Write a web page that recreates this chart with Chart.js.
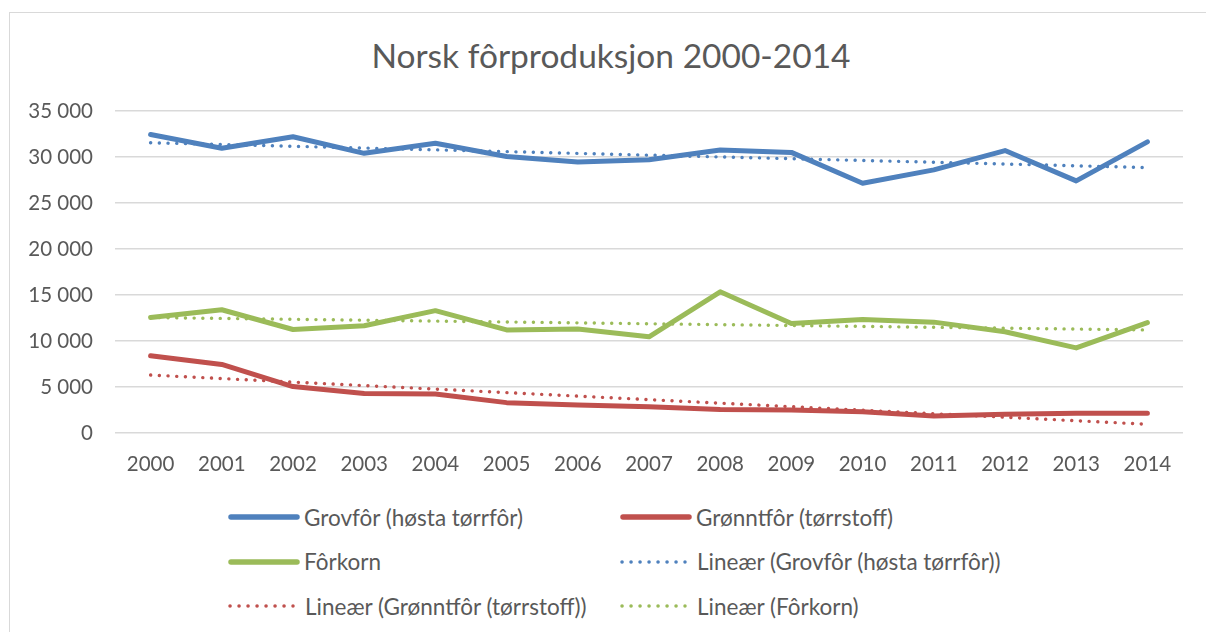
<!DOCTYPE html>
<html>
<head>
<meta charset="utf-8">
<script src="https://cdn.jsdelivr.net/npm/chart.js@4/dist/chart.umd.min.js"></script>
<style>
  html, body { margin: 0; padding: 0; background: #fff; }
  body { width: 1206px; height: 632px; position: relative; overflow: hidden; font-family: Lato, sans-serif; color: #595959; }
  #frame { position: absolute; left: 9px; top: 12px; width: 1230px; height: 660px; border: 1px solid #d9d9d9; box-sizing: border-box; }
  #title { position: absolute; left: 211px; width: 800px; top: 33px; text-align: center; font-size: 33.5px; line-height: 44px; }
  #wrap { position: absolute; left: 0; top: 0; width: 1206px; height: 480px; }
  #legend { position: absolute; left: 228px; top: 495px; display: grid; grid-template-columns: 392px 420px; grid-auto-rows: 44.5px; font-size: 22.5px; }
  .item { display: flex; align-items: center; white-space: nowrap; }
  .item svg { flex: none; }
</style>
</head>
<body>
<div id="frame"></div>
<div id="title">Norsk fôrproduksjon 2000-2014</div>
<div id="wrap"><canvas id="chart"></canvas></div>
<div id="legend"></div>
<script>
// --- data ---
const years = ['2000', '2001', '2002', '2003', '2004', '2005', '2006', '2007', '2008', '2009', '2010', '2011', '2012', '2013', '2014'];
const grovfor = [32450, 30950, 32200, 30400, 31500, 30050, 29450, 29700, 30750, 30500, 27150, 28600, 30700, 27400, 31650];
const gronntfor = [8400, 7450, 5050, 4300, 4250, 3300, 3050, 2850, 2550, 2500, 2300, 1850, 2050, 2150, 2150];
const forkorn = [12550, 13400, 11250, 11650, 13300, 11200, 11300, 10450, 15350, 11900, 12350, 12050, 11000, 9250, 12000];
// trendlines: only the two ends, the line is drawn straight between them
const trendGrovfor = [31550, null, null, null, null, null, null, null, null, null, null, null, null, null, 28850];
const trendGronntfor = [6300, null, null, null, null, null, null, null, null, null, null, null, null, null, 950];
const trendForkorn = [12550, null, null, null, null, null, null, null, null, null, null, null, null, null, 11200];
const yTicks = [0, 5000, 10000, 15000, 20000, 25000, 30000, 35000];

const BLUE = '#4F81BD', RED = '#C0504D', GREEN = '#9BBB59';
const FONT = 'Lato';

function solid(label, data, color) {
  return { label, data, borderColor: color, backgroundColor: color, borderWidth: 5,
    borderCapStyle: 'round', borderJoinStyle: 'round', pointRadius: 0, tension: 0, order: 2, fill: false };
}
function dotted(label, data, color) {
  return { label, data, borderColor: color, backgroundColor: color, borderWidth: 3.4,
    borderDash: [0.1, 8.6], borderCapStyle: 'round', pointRadius: 0, spanGaps: true, order: 1, fill: false, dotted: true };
}

const fmt = v => String(v).replace(/\B(?=(\d{3})+(?!\d))/g, ' ');

const chart = new Chart(document.getElementById('chart'), {
  type: 'line',
  data: {
    labels: years,
    datasets: [
      solid('Grovfôr (høsta tørrfôr)', grovfor, BLUE),
      solid('Grønntfôr (tørrstoff)', gronntfor, RED),
      solid('Fôrkorn', forkorn, GREEN),
      dotted('Lineær (Grovfôr (høsta tørrfôr))', trendGrovfor, BLUE),
      dotted('Lineær (Grønntfôr (tørrstoff))', trendGronntfor, RED),
      dotted('Lineær (Fôrkorn)', trendForkorn, GREEN)
    ]
  },
  options: {
    responsive: true,
    maintainAspectRatio: false,
    animation: false,
    layout: { padding: { left: 16, right: 23, top: 111, bottom: 0 } },
    plugins: { legend: { display: false }, tooltip: { enabled: false }, title: { display: false } },
    scales: {
      x: {
        offset: true,
        grid: { display: false, drawTicks: false },
        border: { display: false },
        ticks: { color: '#595959', font: { family: FONT, size: 20.5 }, padding: 19, maxRotation: 0, autoSkip: false },
        afterFit: s => { s.height = 47; }
      },
      y: {
        min: 0, max: 35000,
        afterBuildTicks: s => { s.ticks = yTicks.map(v => ({ value: v })); },
        grid: { color: '#d9d9d9', lineWidth: 1.5, drawTicks: false },
        border: { display: false },
        ticks: { color: '#595959', font: { family: FONT, size: 20.5 }, padding: 22, callback: v => fmt(v) },
        afterFit: s => { s.width = 99; }
      }
    }
  }
});

// HTML legend in two columns, built from the chart's datasets
const legend = document.getElementById('legend');
chart.data.datasets.forEach(ds => {
  const el = document.createElement('div');
  el.className = 'item';
  const line = ds.dotted
    ? `<line x1="2" y1="7" x2="65" y2="7" stroke="${ds.borderColor}" stroke-width="3.5" stroke-linecap="round" stroke-dasharray="0.1 8.9"/>`
    : `<line x1="3" y1="7" x2="69" y2="7" stroke="${ds.borderColor}" stroke-width="5.5" stroke-linecap="round"/>`;
  el.innerHTML = `<svg width="${ds.dotted ? 77 : 76}" height="14">${line}</svg><span>${ds.label}</span>`;
  legend.appendChild(el);
});
</script>
</body>
</html>
